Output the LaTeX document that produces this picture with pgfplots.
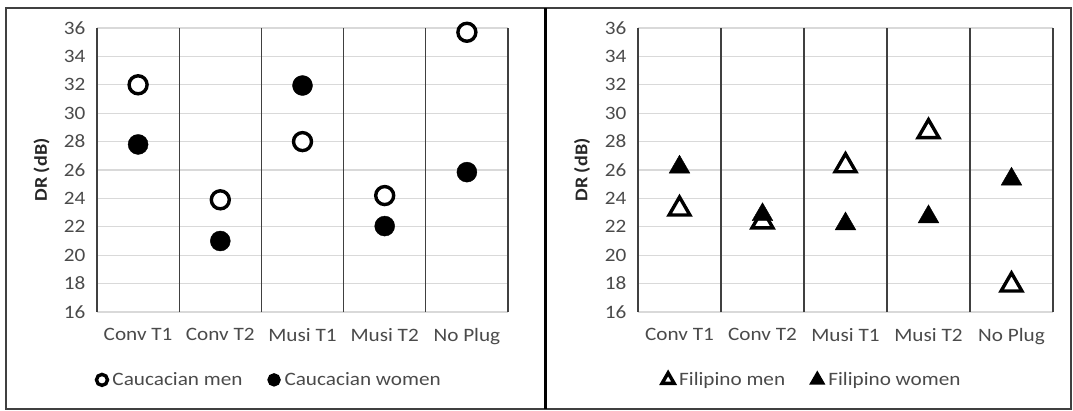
\documentclass[border=0pt]{standalone}
\usepackage{pgfplots}
\pgfplotsset{compat=1.18}
\usepackage{fontspec}
\setmainfont[FakeStretch=1.12]{Carlito}
\definecolor{tickgray}{HTML}{4A4A4A}
\definecolor{gridgray}{HTML}{D9D9D9}
\definecolor{sepgray}{HTML}{404040}
\pgfplotsset{
  drchart/.style={
    scale only axis, width=411bp, height=284bp,
    xmin=0.5, xmax=5.5, ymin=16, ymax=36,
    xtick={1,2,3,4,5},
    xticklabels={Conv T1, Conv T2, Musi T1, Musi T2, No Plug},
    ytick={16,18,...,36},
    axis line style={draw=none},
    major tick length=0pt,
    ymajorgrids, major grid style={gridgray, line width=1.2bp},
    extra x ticks={0.5,1.5,2.5,3.5,4.5,5.5},
    extra x tick labels={},
    extra x tick style={grid=major, major grid style={sepgray, line width=1.3bp}, major tick length=0pt},
    tick label style={font=\fontsize{19}{22}\selectfont, text=tickgray},
    /pgf/number format/assume math mode=true,
    xticklabel style={yshift=-13bp},
    yticklabel style={xshift=-8bp},
    ylabel={\textbf{DR (dB)}},
    ylabel style={at={(axis description cs:-0.135,0.5)}, anchor=center, font=\fontsize{18}{21}\selectfont, text=black!85},
    legend style={draw=none, fill=none, legend columns=2, font=\fontsize{19}{22}\selectfont, text=tickgray,
      at={(axis description cs:0.42,-0.239)}, anchor=center,
      /tikz/every odd column/.append style={column sep=3bp},
      /tikz/every even column/.append style={column sep=24bp}},
    clip=false,
  }
}
\begin{document}
\begin{tikzpicture}
\useasboundingbox (0bp,0bp) rectangle (1073bp,411bp);
\draw[sepgray, line width=2bp] (6bp,2bp) rectangle (1071bp,403bp);
\draw[black, line width=3bp] (545bp,2bp) -- (545bp,403bp);

\begin{axis}[drchart, at={(97bp,99bp)}, anchor=south west,
  legend image code/.code={\draw[#1, mark size=5.5bp, line width=2.4bp] plot coordinates {(0bp,0bp)};}]
\addplot[only marks, mark=*, mark size=9bp, mark options={fill=white, draw=black, line width=3.4bp}]
  coordinates {(1,32.0) (2,23.9) (3,28.0) (4,24.2) (5,35.7)};
\addlegendentry{Caucacian men}
\addplot[only marks, mark=*, mark size=10bp, mark options={fill=black, draw=black}]
  coordinates {(1,27.8) (2,21.0) (3,31.95) (4,22.05) (5,25.85)};
\addlegendentry{Caucacian women}
\end{axis}

\begin{axis}[drchart, width=415bp, at={(638bp,99bp)}, anchor=south west,
  legend image code/.code={\draw[#1, mark size=7bp, line width=2.4bp] plot coordinates {(0bp,0bp)};}]
\addplot[only marks, mark=triangle*, mark size=12bp, mark options={fill=white, draw=black, line width=3.4bp}]
  coordinates {(1,23.25) (2,22.35) (3,26.3) (4,28.7) (5,17.9)};
\addlegendentry{Filipino men}
\addplot[only marks, mark=triangle*, mark size=12bp, mark options={fill=black, draw=black}]
  coordinates {(1,26.2) (2,22.85) (3,22.2) (4,22.7) (5,25.35)};
\addlegendentry{Filipino women}
\end{axis}
\end{tikzpicture}
\end{document}
